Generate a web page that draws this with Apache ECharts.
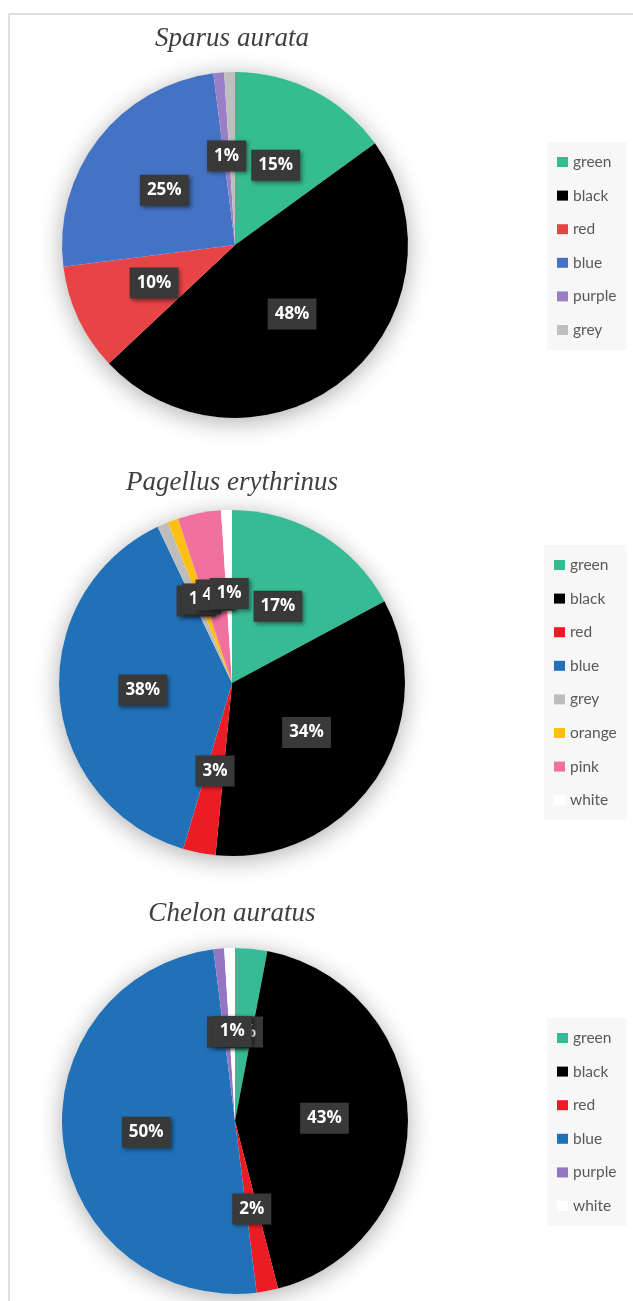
<!DOCTYPE html>
<html>
<head>
<meta charset="utf-8">
<title>Colour composition by species</title>
<script src="https://cdn.jsdelivr.net/npm/echarts@6/dist/echarts.min.js"></script>
<style>
  html, body { margin: 0; padding: 0; background: #fff; }
  #chart { width: 633px; height: 1301px; }
</style>
</head>
<body>
<div id="chart"></div>
<script>
// Species shown, top to bottom
const titles = ['Sparus aurata', 'Pagellus erythrinus', 'Chelon auratus'];

// Sparus aurata colour shares (%)
const sparusNames = ['green', 'black', 'red', 'blue', 'purple', 'grey'];
const sparusValues = [15, 48, 10, 25, 1, 1];

// Pagellus erythrinus colour shares (%)
const pagellusNames = ['green', 'black', 'red', 'blue', 'grey', 'orange', 'pink', 'white'];
const pagellusValues = [17, 34, 3, 38, 1, 1, 4, 1];

// Chelon auratus colour shares (%)
const chelonNames = ['green', 'black', 'red', 'blue', 'purple', 'white'];
const chelonValues = [3, 43, 2, 50, 1, 1];

// Slice colours per chart
const sparusColors = {
  green: '#35bc8f', black: '#000000', red: '#e84445', blue: '#4472c4',
  purple: '#987fc6', grey: '#bfbfbf'
};
const pagellusColors = {
  green: '#36bb94', black: '#000000', red: '#ec1c24', blue: '#2171b8',
  grey: '#bdbdbd', orange: '#fdbf16', pink: '#f0709e', white: '#ffffff'
};
const chelonColors = {
  green: '#36bb94', black: '#000000', red: '#ec1c24', blue: '#2171b8',
  purple: '#9475c4', white: '#ffffff'
};

// Layout of each panel
const panels = [
  { names: sparusNames, values: sparusValues, colors: sparusColors, center: [235, 245], titleTop: 25, legendTop: 142, legendLeft: 547, hideLabel: ['grey'] },
  { names: pagellusNames, values: pagellusValues, colors: pagellusColors, center: [232, 683], titleTop: 469, legendTop: 545, legendLeft: 544, hideLabel: [] },
  { names: chelonNames, values: chelonValues, colors: chelonColors, center: [235, 1121], titleTop: 900, legendTop: 1018, legendLeft: 547, hideLabel: [] }
];
const pieRadius = 173;

const labelStyle = {
  show: true,
  position: 'inside',
  color: '#ffffff',
  fontFamily: 'Open Sans',
  fontWeight: 'bold',
  fontSize: 17,
  lineHeight: 20,
  backgroundColor: '#393939',
  padding: [6, 7, 5, 7],
  shadowBlur: 4,
  shadowColor: 'rgba(0,0,0,0.45)',
  shadowOffsetX: 2,
  shadowOffsetY: 2,
  formatter: p => p.value + '%'
};

const series = [];
const legends = [];
const titleList = [];

panels.forEach((p, i) => {
  // soft drop shadow behind the whole pie
  series.push({
    type: 'pie',
    z: 1,
    silent: true,
    animation: false,
    center: p.center,
    radius: [0, pieRadius],
    label: { show: false },
    labelLine: { show: false },
    data: [{
      name: 'backdrop-' + i,
      value: 1,
      itemStyle: { color: '#ffffff', shadowBlur: 24, shadowColor: 'rgba(0,0,0,0.32)', shadowOffsetY: 4 }
    }]
  });

  series.push({
    type: 'pie',
    z: 2,
    silent: true,
    animation: false,
    center: p.center,
    radius: [0, pieRadius],
    startAngle: 90,
    clockwise: true,
    avoidLabelOverlap: false,
    labelLayout: { hideOverlap: false },
    label: labelStyle,
    labelLine: { show: false },
    emphasis: { disabled: true },
    data: p.names.map((n, k) => {
      const item = { name: n, value: p.values[k], itemStyle: { color: p.colors[n] } };
      if (p.hideLabel.includes(n)) item.label = { show: false };
      return item;
    })
  });

  legends.push({
    orient: 'vertical',
    left: p.legendLeft,
    top: p.legendTop,
    padding: [12, 10, 12, 10],
    backgroundColor: '#f7f7f7',
    icon: 'rect',
    itemWidth: 11,
    itemHeight: 10,
    itemGap: 17.6,
    selectedMode: false,
    textStyle: { fontFamily: 'Lato', fontSize: 15.5, color: '#595959', lineHeight: 16 },
    data: p.names.map(n => ({ name: n, itemStyle: { color: p.colors[n] } }))
  });

  titleList.push({
    text: titles[i],
    left: 232,
    top: p.titleTop,
    textAlign: 'center',
    padding: 0,
    textStyle: { fontFamily: 'Liberation Serif', fontStyle: 'italic', fontWeight: 'normal', fontSize: 27, color: '#404040' }
  });
});

const chart = echarts.init(document.getElementById('chart'), null, { renderer: 'canvas' });
chart.setOption({
  backgroundColor: '#ffffff',
  animation: false,
  title: titleList,
  legend: legends,
  series: series,
  graphic: [
    { type: 'line', shape: { x1: 9, y1: 14, x2: 633, y2: 14 }, style: { stroke: '#dedede', lineWidth: 2 }, silent: true },
    { type: 'line', shape: { x1: 9, y1: 14, x2: 9, y2: 1301 }, style: { stroke: '#dedede', lineWidth: 2 }, silent: true }
  ]
});
</script>
</body>
</html>
